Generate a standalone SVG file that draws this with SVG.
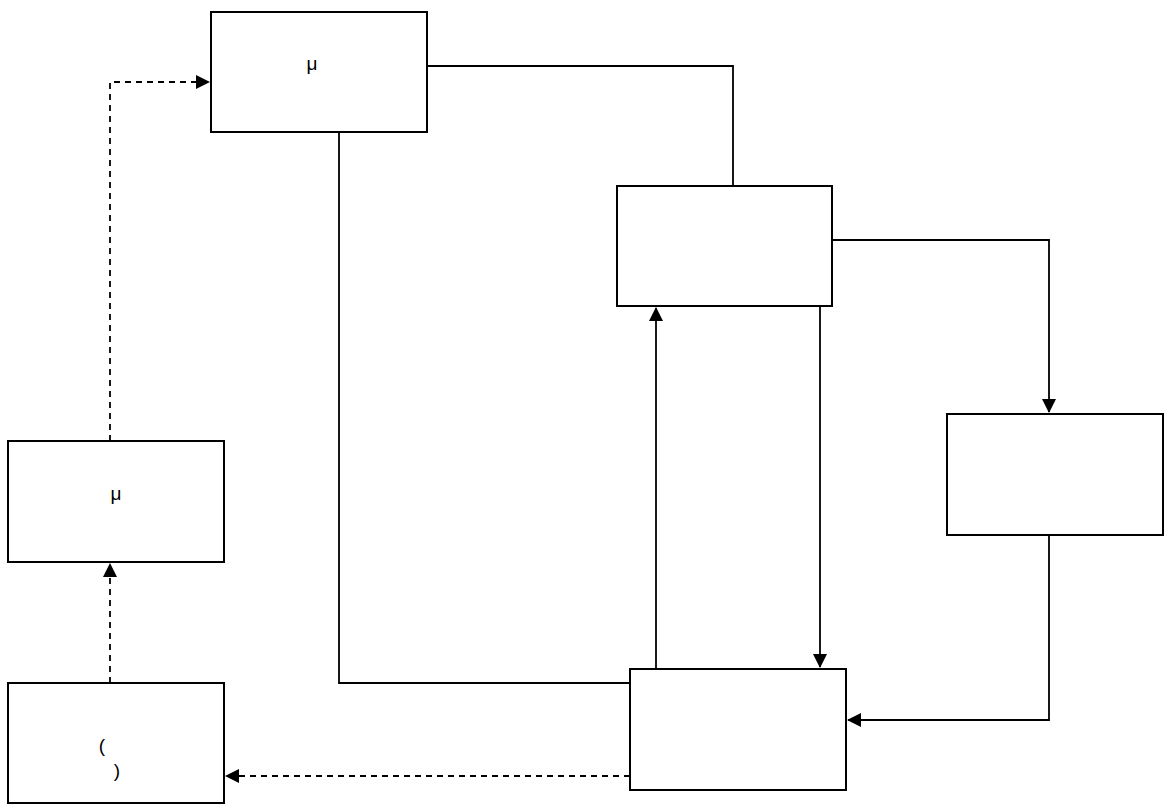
<svg xmlns="http://www.w3.org/2000/svg" width="1166" height="805" viewBox="0 0 1166 805">
<defs>
<marker id="arr" markerWidth="14" markerHeight="14" refX="13" refY="7" orient="auto" markerUnits="userSpaceOnUse">
<path d="M0,0 L14,7 L0,14 Z" fill="#000"/>
</marker>
<style>
.box{fill:#fff;stroke:#000;stroke-width:2}
.ln{fill:none;stroke:#000;stroke-width:1.8}
.dash{stroke-dasharray:6,5}
.t{font-family:"Liberation Sans",Arial,sans-serif;font-size:19px;fill:#000;text-anchor:middle}
</style>
</defs>
<rect width="1166" height="805" fill="#fff"/>
<g id="connectors">
<path class="ln dash" d="M110,441 V82 H209" marker-end="url(#arr)"/>
<path class="ln dash" d="M110,683 V564" marker-end="url(#arr)"/>
<path class="ln dash" d="M630,776 H226" marker-end="url(#arr)"/>
<path class="ln" d="M427,66 H733 V186"/>
<path class="ln" d="M339,132 V683 H630"/>
<path class="ln" d="M656,669 V308" marker-end="url(#arr)"/>
<path class="ln" d="M820,306 V667" marker-end="url(#arr)"/>
<path class="ln" d="M832,240 H1049 V412" marker-end="url(#arr)"/>
<path class="ln" d="M1049,535 V720 H848" marker-end="url(#arr)"/>
</g>
<g id="nodeA"><rect class="box" x="211" y="12" width="216" height="120"/><text class="t" x="312" y="70">μ</text></g>
<g id="nodeB"><rect class="box" x="8" y="441" width="216" height="121"/><text class="t" x="116" y="500">μ</text></g>
<g id="nodeC"><rect class="box" x="8" y="683" width="216" height="120"/><text class="t" x="102" y="752">(</text><text class="t" x="117" y="777">)</text></g>
<g id="nodeD"><rect class="box" x="617" y="186" width="215" height="120"/></g>
<g id="nodeE"><rect class="box" x="630" y="669" width="216" height="121"/></g>
<g id="nodeF"><rect class="box" x="947" y="414" width="216" height="121"/></g>
</svg>
